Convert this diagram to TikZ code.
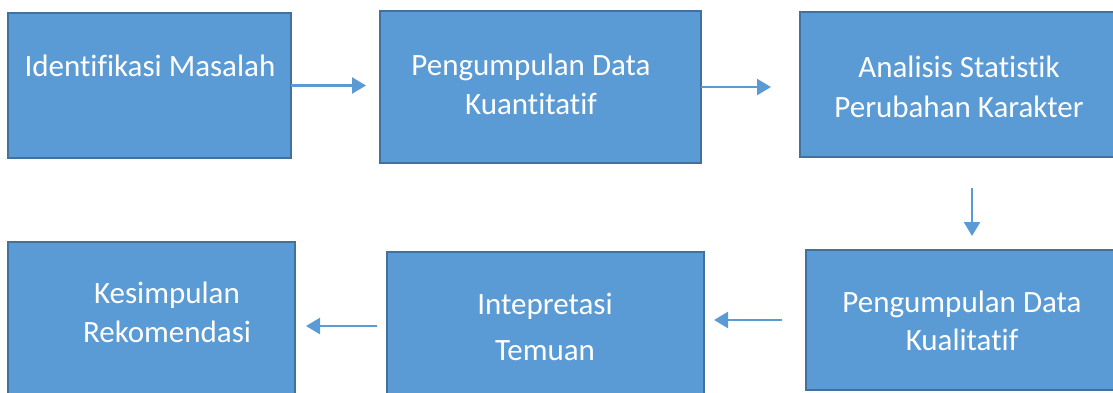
\documentclass[tikz,border=0pt]{standalone}
\usepackage{fontspec}
\setmainfont[Ligatures=CommonOff]{Carlito}
\usetikzlibrary{arrows.meta,calc}
\definecolor{boxfill}{HTML}{5B9BD5}
\definecolor{boxline}{HTML}{41719C}
\definecolor{arrowcol}{HTML}{5B9BD5}
\newcommand\mystr{\rule[-10pt]{0pt}{36pt}}
\tikzset{
  stepbox/.style={rectangle, draw=boxline, fill=boxfill, line width=2pt, inner sep=0pt, outer sep=0pt},
  boxtext/.style={anchor=north, inner sep=0pt, align=center, text=white, font=\fontsize{31}{39}\selectfont},
  flow/.style={draw=arrowcol, line width=2.5pt, -{Triangle[length=14pt,width=16pt]}}
}
\begin{document}
\begin{tikzpicture}[x=1pt,y=-1pt]
\useasboundingbox (0,0) rectangle (1113,392);
\clip (0,0) rectangle (1113,392);
% boxes
\node[stepbox, minimum width=283pt, minimum height=145pt] (b1) at (149.5,85.5) {};
\node[stepbox, minimum width=321pt, minimum height=152pt] (b2) at (540.5,87) {};
\node[stepbox, minimum width=330pt, minimum height=145pt] (b3) at (965,84.5) {};
\node[stepbox, minimum width=287pt, minimum height=158pt] (b4) at (151.5,321) {};
\node[stepbox, minimum width=317pt, minimum height=148pt] (b5) at (545.5,326) {};
\node[stepbox, minimum width=324pt, minimum height=140pt] (b6) at (968,320) {};
% texts
\node[boxtext] (t1) at (150,50) {\mystr Identifikasi Masalah};
\node[boxtext] (t2) at (531,49) {\mystr Pengumpulan Data\\\mystr Kuantitatif};
\node[boxtext] (t3) at (959,51) {\mystr Analisis Statistik\\[1pt]\mystr Perubahan Karakter};
\node[boxtext] (t4) at (167,277) {\mystr Kesimpulan\\\mystr Rekomendasi};
\node[boxtext] (t5) at (545,288) {\mystr Intepretasi\\[7pt]\mystr Temuan};
\node[boxtext] (t6) at (962,286) {\mystr Pengumpulan Data\\[-1pt]\mystr Kualitatif};
% connectors
\coordinate (d6) at ($(b6.north)+(4,0)$);
\draw[flow, shorten >=14pt] (b1.east) -- (b2.west |- b1.east);
\draw[flow, shorten >=29pt] (b2.east) -- (b3.west |- b2.east);
\draw[flow, shorten <=31pt, shorten >=14pt] (b3.south -| d6) -- (d6);
\draw[flow, shorten <=24pt, shorten >=10pt] (b6.west) -- (b6.west -| b5.east);
\draw[flow, shorten <=10pt, shorten >=11pt] (b5.west) -- (b5.west -| b4.east);
\end{tikzpicture}
\end{document}
